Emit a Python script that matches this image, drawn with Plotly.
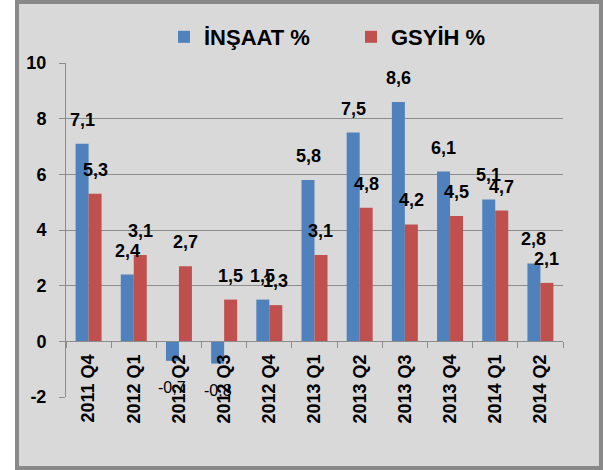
import plotly.graph_objects as go

categories = ["2011 Q4", "2012 Q1", "2012 Q2", "2012 Q3", "2012 Q4", "2013 Q1",
              "2013 Q2", "2013 Q3", "2013 Q4", "2014 Q1", "2014 Q2"]
insaat = [7.1, 2.4, -0.7, -0.8, 1.5, 5.8, 7.5, 8.6, 6.1, 5.1, 2.8]
gsyih = [5.3, 3.1, 2.7, 1.5, 1.3, 3.1, 4.8, 4.2, 4.5, 4.7, 2.1]
series_names = ["İNŞAAT %", "GSYİH %"]
y_ticks = [-2, 0, 2, 4, 6, 8, 10]

W, H = 603, 470
ML, MR, MT, MB = 66, 40, 63, 73
PW, PH = W - ML - MR, H - MT - MB
BARGAP = 0.425
FONT = "Liberation Sans, Arial, sans-serif"
GRID = "#8c8c8c"
colors = ["#4F81BD", "#C0504D"]


def xp(px):
    return (px - ML) / PW


def yp(py):
    return (H - MB - py) / PH


fig = go.Figure()
for name, vals, col in zip(series_names, [insaat, gsyih], colors):
    fig.add_trace(go.Bar(x=categories, y=vals, name=name, marker_color=col,
                         marker_line_width=0))

# data labels
cat_px = PW / len(categories)
bar_px = cat_px * (1 - BARGAP) / 2
annotations = []
for si, vals in enumerate([insaat, gsyih]):
    shift = (si - 0.5) * bar_px
    for c, v in zip(categories, vals):
        txt = f"{v:.1f}".replace(".", ",")
        pos = v >= 0
        annotations.append(dict(
            x=c, y=v, text=txt, showarrow=False, xshift=shift,
            yshift=24 if pos else -27,
            font=dict(family=FONT, size=18 if pos else 16, color="black",
                      weight="bold" if pos else "normal"),
            xanchor="center", yanchor="middle"))

fig.update_layout(
    width=W, height=H, autosize=False,
    margin=dict(l=ML, r=MR, t=MT, b=MB, pad=0),
    paper_bgcolor="white", plot_bgcolor="rgba(0,0,0,0)",
    barmode="group", bargap=BARGAP, bargroupgap=0,
    font=dict(family=FONT, color="black"),
    legend=dict(orientation="h", x=xp(164), y=yp(37), xanchor="left",
                yanchor="middle", bgcolor="rgba(0,0,0,0)",
                font=dict(family=FONT, size=22, weight="bold"),
                entrywidth=142, entrywidthmode="pixels"),
    shapes=[dict(type="rect", xref="paper", yref="paper", layer="below",
                 x0=xp(17), x1=xp(601), y0=yp(468), y1=yp(2),
                 line=dict(color="#898989", width=4), fillcolor="#d9d9d9")],
    annotations=annotations,
)
fig.update_yaxes(range=[-2, 10], tickvals=y_ticks, ticktext=[str(t) for t in y_ticks],
                 showgrid=True, gridcolor=GRID, gridwidth=1, zeroline=False,
                 showline=True, linecolor=GRID, linewidth=1,
                 ticks="outside", ticklen=6, tickcolor=GRID,
                 tickfont=dict(family=FONT, size=18, weight="bold"),
                 ticklabelstandoff=9)
fig.update_xaxes(anchor="free", position=2 / 12, tickangle=-90,
                 showgrid=False, showline=True, linecolor=GRID, linewidth=1,
                 ticks="outside", ticklen=6, tickcolor=GRID, tickson="boundaries",
                 tickfont=dict(family=FONT, size=18, weight="bold"),
                 ticklabelstandoff=5)

fig.write_html("out.html", config={"displayModeBar": False},
               post_script="document.body.style.margin='0';document.body.style.overflow='hidden';")
